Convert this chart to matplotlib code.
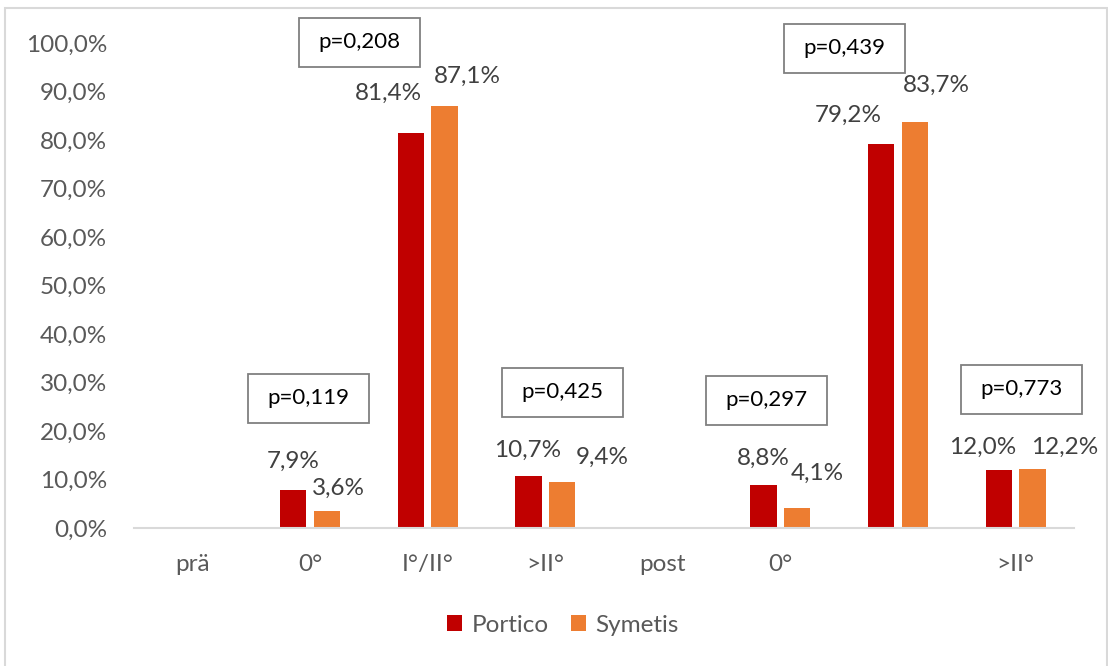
import matplotlib.pyplot as plt
import numpy as np
from matplotlib.patches import Rectangle
from matplotlib.transforms import IdentityTransform

categories = ["prä", "0°", "I°/II°", ">II°", "post", "0°", "", ">II°"]
portico = [np.nan, 7.9, 81.4, 10.7, np.nan, 8.8, 79.2, 12.0]
symetis = [np.nan, 3.6, 87.1, 9.4, np.nan, 4.1, 83.7, 12.2]
p_values = ["p=0,119", "p=0,208", "p=0,425", "p=0,297", "p=0,439", "p=0,773"]
p_cats = [1, 2, 3, 5, 6, 7]

# manual label placement (pixels, relative to bar top)
portico_off = [None, (0, 28), (-22, 40), (-1, 26), None, (0, 27), (-33, 29), (-16, 22)]
symetis_off = [None, (12, 22), (23, 29), (40, 25), None, (20, 35), (22, 37), (32, 21)]
# p-box placement (pixels, relative to category centre on the zero line)
p_off = [(-2, 130), (-68, 486), (17, 136), (-14, 128), (-54, 480), (6, 139)]
box_w, box_h = 121, 49

red = "#C00000"
orange = "#ED7D31"
grey = "#595959"
fs = 17.5

plt.rcParams['font.family'] = ['Lato', 'DejaVu Sans']

fig = plt.figure(figsize=(11.08, 6.66), dpi=100)
fig.patches.append(Rectangle((5 / 1108, -0.1), 1102 / 1108, 1 - 8 / 666 + 0.1,
                             transform=fig.transFigure, fill=False,
                             edgecolor="#D9D9D9", linewidth=1.5))
ax = fig.add_axes([133.6 / 1108, 1 - 528 / 666, 940.8 / 1108, 485 / 666])

x = np.arange(len(categories))
w = 0.225
off = 0.1425
b1 = ax.bar(x - off, portico, w, color=red, label="Portico")
b2 = ax.bar(x + off, symetis, w, color=orange, label="Symetis")

for bars, vals, offs in [(b1, portico, portico_off), (b2, symetis, symetis_off)]:
    for bar, v, o in zip(bars, vals, offs):
        if np.isnan(v):
            continue
        ax.annotate(f"{v:.1f}%".replace(".", ","),
                    (bar.get_x() + bar.get_width() / 2, v),
                    xytext=o, textcoords="offset pixels",
                    ha="center", va="center", fontsize=fs, color="#404040")

ax.set_xlim(-0.5, len(categories) - 0.5)
ax.set_ylim(0, 100)

for txt, c, o in zip(p_values, p_cats, p_off):
    cx, cy = ax.transData.transform((c, 0))
    cx += o[0]
    cy += o[1]
    fig.patches.append(Rectangle((cx - box_w / 2, cy - box_h / 2), box_w, box_h,
                                 transform=IdentityTransform(), facecolor="white",
                                 edgecolor="#808080", linewidth=1.3))
    fig.text(cx / 1108, cy / 666, txt, ha="center", va="center",
             fontsize=16, color="black")

ax.set_yticks(np.arange(0, 101, 10))
ax.set_yticklabels([f"{t:.1f}%".replace(".", ",") for t in np.arange(0, 101, 10)])
ax.set_xticks(x)
ax.set_xticklabels(categories)
ax.tick_params(axis="both", length=0, labelsize=fs, labelcolor=grey)
ax.tick_params(axis="y", pad=19)
ax.tick_params(axis="x", pad=19)
for s in ["top", "right", "left"]:
    ax.spines[s].set_visible(False)
ax.spines["bottom"].set_color("#D9D9D9")
ax.spines["bottom"].set_linewidth(1.5)

leg = fig.legend(handles=[b1, b2], loc="center", bbox_to_anchor=(563 / 1108, 1 - 625 / 666),
                 ncol=2, frameon=False, fontsize=fs, handlelength=0.62, handleheight=0.62,
                 handletextpad=0.4, columnspacing=0.9)
for t in leg.get_texts():
    t.set_color(grey)

fig.savefig("out.png", dpi=100)
